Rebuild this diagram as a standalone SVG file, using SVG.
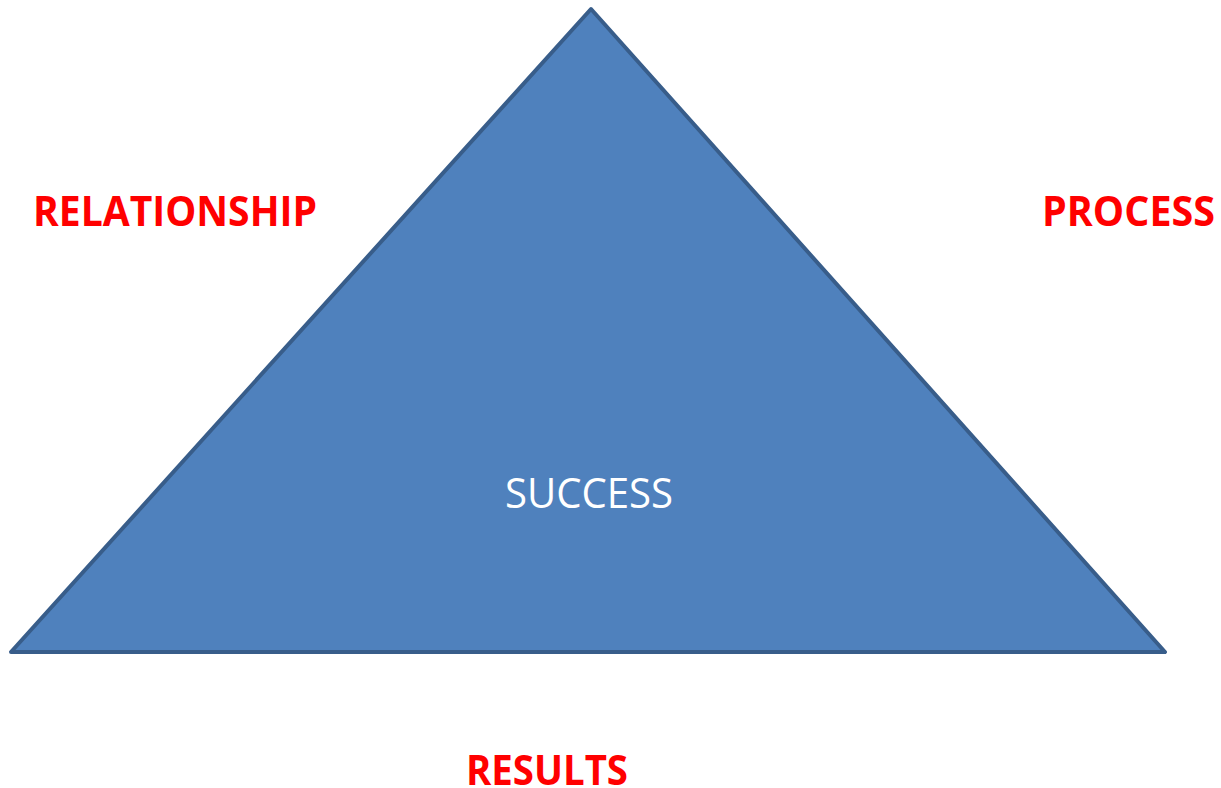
<svg xmlns="http://www.w3.org/2000/svg" width="1221" height="788" viewBox="0 0 1221 788">
  <style>
    .tri { fill: #4F81BD; stroke: #385D8A; stroke-width: 4; stroke-linejoin: round; }
    .label { font-family: "Open Sans", "Liberation Sans", sans-serif; font-weight: bold; font-size: 42px; fill: #FF0000; }
    .center { font-family: "Open Sans", "Liberation Sans", sans-serif; font-size: 42px; fill: #FFFFFF; }
  </style>
  <rect width="1221" height="788" fill="#FFFFFF"/>
  <g id="triangle">
    <polygon class="tri" points="591,9 1165,652 11,652"/>
    <text class="center" x="505" y="508" textLength="168" lengthAdjust="spacingAndGlyphs">SUCCESS</text>
  </g>
  <g id="relationship">
    <text class="label" x="33" y="226" textLength="284" lengthAdjust="spacingAndGlyphs">RELATIONSHIP</text>
  </g>
  <g id="process">
    <text class="label" x="1042" y="226" textLength="173" lengthAdjust="spacingAndGlyphs">PROCESS</text>
  </g>
  <g id="results">
    <text class="label" x="466" y="785" textLength="162" lengthAdjust="spacingAndGlyphs">RESULTS</text>
  </g>
  <g id="connectors"></g>
</svg>
